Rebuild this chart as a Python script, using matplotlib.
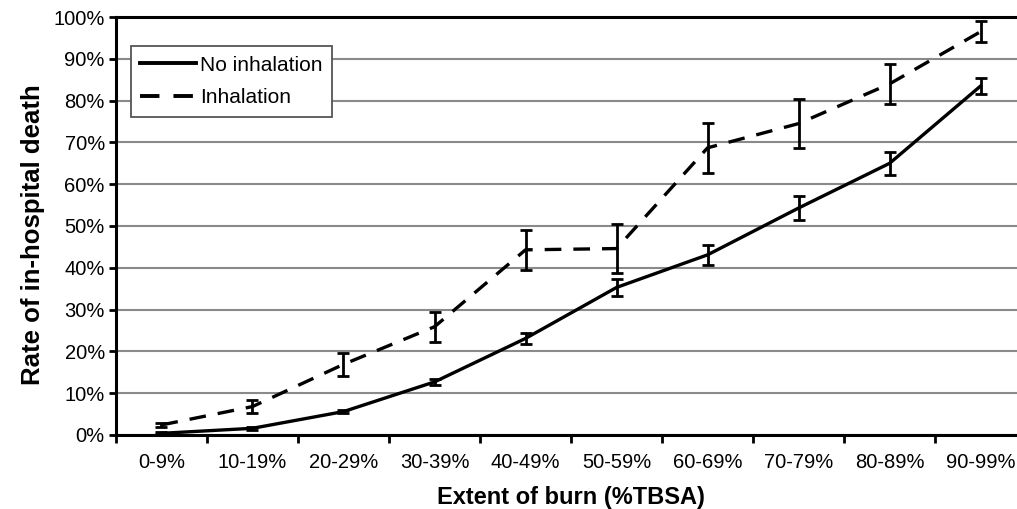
import matplotlib
matplotlib.use("Agg")
import matplotlib.pyplot as plt
from matplotlib.ticker import FixedLocator, PercentFormatter
from matplotlib.lines import Line2D

plt.rcParams['font.family'] = ['Liberation Sans', 'DejaVu Sans']

categories = ['0-9%', '10-19%', '20-29%', '30-39%', '40-49%',
              '50-59%', '60-69%', '70-79%', '80-89%', '90-99%']
no_inhal = [0.4, 1.6, 5.6, 12.7, 23.1, 35.3, 43.1, 54.3, 65.0, 83.5]
no_inhal_err = [0.2, 0.3, 0.4, 0.7, 1.3, 2.0, 2.4, 2.9, 2.7, 2.0]
inhal = [2.4, 6.8, 16.9, 25.9, 44.3, 44.6, 68.7, 74.5, 84.0, 96.5]
inhal_err = [0.5, 1.5, 2.7, 3.6, 4.8, 5.9, 6.0, 5.9, 4.7, 2.6]

fig = plt.figure(figsize=(10.17, 5.09), dpi=100)
ax = fig.add_axes([0.114, 0.1454, 0.895, 0.8212])

x = list(range(len(categories)))
dash = (0, (5, 3.6))
ax.errorbar(x, no_inhal, yerr=no_inhal_err, color='black', lw=2.4,
            elinewidth=2.0, capsize=4, capthick=2.0, zorder=3)
ax.errorbar(x, inhal, yerr=inhal_err, color='black', lw=2.4, ls=dash,
            elinewidth=2.0, capsize=4, capthick=2.0, zorder=3)

ax.set_xlim(-0.5, 9.5)
ax.set_ylim(0, 100)
ax.set_yticks(range(0, 101, 10))
ax.yaxis.set_major_formatter(PercentFormatter(decimals=0))
ax.set_xticks(x)
ax.set_xticklabels(categories)
ax.xaxis.set_minor_locator(FixedLocator([i - 0.5 for i in range(11)]))
ax.tick_params(axis='x', which='major', length=0, pad=13, labelsize=14.5)
ax.tick_params(axis='x', which='minor', length=6, width=2, direction='out')
ax.tick_params(axis='y', length=5, width=2, direction='out', labelsize=14.5, pad=3)

ax.grid(axis='y', color='#8a8a8a', lw=1.5, zorder=0)
for s in ['left', 'bottom', 'top']:
    ax.spines[s].set_linewidth(2.2)
    ax.spines[s].set_color('black')
ax.spines['right'].set_visible(False)

ax.set_xlabel('Extent of burn (%TBSA)', fontsize=17, fontweight='bold', labelpad=10)
ax.set_ylabel('Rate of in-hospital death', fontsize=18.5, fontweight='bold')
ax.yaxis.set_label_coords(-0.078, 0.48)

handles = [Line2D([], [], color='black', lw=2.8),
           Line2D([], [], color='black', lw=2.8, ls=dash)]
leg = ax.legend(handles, ['No inhalation', 'Inhalation'], loc='upper left',
                bbox_to_anchor=(0.016, 0.93), fontsize=15,
                handlelength=2.7, handletextpad=0.2, frameon=True, fancybox=False,
                borderpad=0.45, labelspacing=0.65, borderaxespad=0)
leg.get_frame().set_edgecolor('#555555')
leg.get_frame().set_linewidth(1.3)
leg.get_frame().set_alpha(1)
fig.savefig('out.png', dpi=100)
